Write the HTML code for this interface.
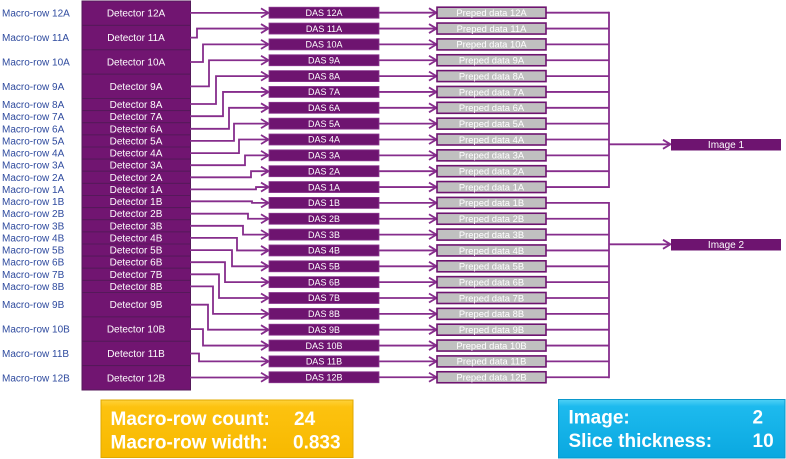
<!DOCTYPE html>
<html><head><meta charset="utf-8"><style>
html,body{margin:0;padding:0;background:#fff;}
svg{display:block;font-family:"Liberation Sans",Arial,sans-serif;}
</style></head><body>
<svg width="786" height="459" viewBox="0 0 786 459" xmlns="http://www.w3.org/2000/svg">
<defs>
<linearGradient id="gy" x1="0" y1="0" x2="0" y2="1"><stop offset="0" stop-color="#ffd23a"/><stop offset="0.12" stop-color="#fdc20f"/><stop offset="1" stop-color="#f7b900"/></linearGradient>
<linearGradient id="gb" x1="0" y1="0" x2="0" y2="1"><stop offset="0" stop-color="#4fd0f5"/><stop offset="0.12" stop-color="#1dbaee"/><stop offset="1" stop-color="#0aa8e0"/></linearGradient>
</defs>

<!-- Macro-row labels -->
<g fill="#2e4a9e" font-size="10">
<text x="2" y="16.7">Macro-row 12A</text>
<text x="2" y="41.1">Macro-row 11A</text>
<text x="2" y="65.5">Macro-row 10A</text>
<text x="2" y="89.9">Macro-row 9A</text>
<text x="2" y="108.1">Macro-row 8A</text>
<text x="2" y="120.2">Macro-row 7A</text>
<text x="2" y="132.3">Macro-row 6A</text>
<text x="2" y="144.4">Macro-row 5A</text>
<text x="2" y="156.6">Macro-row 4A</text>
<text x="2" y="168.7">Macro-row 3A</text>
<text x="2" y="180.8">Macro-row 2A</text>
<text x="2" y="192.9">Macro-row 1A</text>
<text x="2" y="205.1">Macro-row 1B</text>
<text x="2" y="217.2">Macro-row 2B</text>
<text x="2" y="229.3">Macro-row 3B</text>
<text x="2" y="241.4">Macro-row 4B</text>
<text x="2" y="253.6">Macro-row 5B</text>
<text x="2" y="265.7">Macro-row 6B</text>
<text x="2" y="277.8">Macro-row 7B</text>
<text x="2" y="289.9">Macro-row 8B</text>
<text x="2" y="308.2">Macro-row 9B</text>
<text x="2" y="332.6">Macro-row 10B</text>
<text x="2" y="357">Macro-row 11B</text>
<text x="2" y="381.3">Macro-row 12B</text>
</g>

<!-- Detectors -->
<g fill="#711571" stroke="#55195a" stroke-width="1">
<rect x="82" y="1" width="108.5" height="24.4"/>
<rect x="82" y="25.4" width="108.5" height="24.4"/>
<rect x="82" y="49.8" width="108.5" height="24.4"/>
<rect x="82" y="74.2" width="108.5" height="24.3"/>
<rect x="82" y="98.5" width="108.5" height="12.1"/>
<rect x="82" y="110.6" width="108.5" height="12.15"/>
<rect x="82" y="122.75" width="108.5" height="12.15"/>
<rect x="82" y="134.9" width="108.5" height="12.1"/>
<rect x="82" y="147" width="108.5" height="12.1"/>
<rect x="82" y="159.1" width="108.5" height="12.15"/>
<rect x="82" y="171.25" width="108.5" height="12.15"/>
<rect x="82" y="183.4" width="108.5" height="12.1"/>
<rect x="82" y="195.5" width="108.5" height="12.1"/>
<rect x="82" y="207.6" width="108.5" height="12.15"/>
<rect x="82" y="219.75" width="108.5" height="12.15"/>
<rect x="82" y="231.9" width="108.5" height="12.1"/>
<rect x="82" y="244" width="108.5" height="12.1"/>
<rect x="82" y="256.1" width="108.5" height="12.15"/>
<rect x="82" y="268.25" width="108.5" height="12.15"/>
<rect x="82" y="280.4" width="108.5" height="12.1"/>
<rect x="82" y="292.5" width="108.5" height="24.4"/>
<rect x="82" y="316.9" width="108.5" height="24.4"/>
<rect x="82" y="341.3" width="108.5" height="24.3"/>
<rect x="82" y="365.6" width="108.5" height="24.4"/>
</g>
<g fill="#fff" font-size="10" text-anchor="middle">
<text x="136" y="16.7">Detector 12A</text>
<text x="136" y="41.1">Detector 11A</text>
<text x="136" y="65.5">Detector 10A</text>
<text x="136" y="89.9">Detector 9A</text>
<text x="136" y="108.1">Detector 8A</text>
<text x="136" y="120.2">Detector 7A</text>
<text x="136" y="132.3">Detector 6A</text>
<text x="136" y="144.4">Detector 5A</text>
<text x="136" y="156.6">Detector 4A</text>
<text x="136" y="168.7">Detector 3A</text>
<text x="136" y="180.8">Detector 2A</text>
<text x="136" y="192.9">Detector 1A</text>
<text x="136" y="205.1">Detector 1B</text>
<text x="136" y="217.2">Detector 2B</text>
<text x="136" y="229.3">Detector 3B</text>
<text x="136" y="241.4">Detector 4B</text>
<text x="136" y="253.6">Detector 5B</text>
<text x="136" y="265.7">Detector 6B</text>
<text x="136" y="277.8">Detector 7B</text>
<text x="136" y="289.9">Detector 8B</text>
<text x="136" y="308.2">Detector 9B</text>
<text x="136" y="332.6">Detector 10B</text>
<text x="136" y="357">Detector 11B</text>
<text x="136" y="381.3">Detector 12B</text>
</g>

<!-- Detector -> DAS connectors -->
<g fill="none" stroke="#862d8c" stroke-width="1.8">
<path d="M190,12.9 H268"/>
<path d="M190,37.6 H197 V28.55 H268"/>
<path d="M190,62 H203 V44.4 H268"/>
<path d="M190,86.4 H209 V60.25 H268"/>
<path d="M190,104 H216 V76.1 H268"/>
<path d="M190,116.2 H223 V91.95 H268"/>
<path d="M190,128.8 H229 V107.8 H268"/>
<path d="M190,140.9 H234 V123.65 H268"/>
<path d="M190,153.1 H239 V139.5 H268"/>
<path d="M190,165.2 H245 V155.35 H268"/>
<path d="M190,177.3 H251 V171.2 H268"/>
<path d="M190,189.4 H256 V187.05 H268"/>
<path d="M190,201.3 H252 V202.9 H268"/>
<path d="M190,213.7 H248 V218.75 H268"/>
<path d="M190,225.8 H243 V234.6 H268"/>
<path d="M190,237.9 H237 V250.45 H268"/>
<path d="M190,250.1 H232 V266.3 H268"/>
<path d="M190,262.2 H225 V282.15 H268"/>
<path d="M190,274.3 H219 V298 H268"/>
<path d="M190,286.4 H213 V313.85 H268"/>
<path d="M190,304.7 H208 V329.7 H268"/>
<path d="M190,329.1 H203 V345.55 H268"/>
<path d="M190,353.5 H199 V361.4 H268"/>
<path d="M190,377.5 H268"/>
</g>

<!-- DAS -> Preped lines and bus -->
<g fill="none" stroke="#862d8c" stroke-width="1.8">
<path d="M379,12.7 H436 M379,28.55 H436 M379,44.4 H436 M379,60.25 H436 M379,76.1 H436 M379,91.95 H436 M379,107.8 H436 M379,123.65 H436 M379,139.5 H436 M379,155.35 H436 M379,171.2 H436 M379,187.05 H436 M379,202.9 H436 M379,218.75 H436 M379,234.6 H436 M379,250.45 H436 M379,266.3 H436 M379,282.15 H436 M379,298 H436 M379,313.85 H436 M379,329.7 H436 M379,345.55 H436 M379,361.4 H436 M379,377.25 H436"/>
<path d="M546,12.7 H609 M546,28.55 H609 M546,44.4 H609 M546,60.25 H609 M546,76.1 H609 M546,91.95 H609 M546,107.8 H609 M546,123.65 H609 M546,139.5 H609 M546,155.35 H609 M546,171.2 H609 M546,187.05 H609 M546,202.9 H609 M546,218.75 H609 M546,234.6 H609 M546,250.45 H609 M546,266.3 H609 M546,282.15 H609 M546,298 H609 M546,313.85 H609 M546,329.7 H609 M546,345.55 H609 M546,361.4 H609 M546,377.25 H609"/>
<path d="M609,11.8 V188"/>
<path d="M609,202 V378.2"/>
<path d="M609,144.3 H670"/>
<path d="M609,244.3 H670"/>
</g>

<!-- Arrowheads -->
<g fill="none" stroke="#862d8c" stroke-width="1.8" stroke-linejoin="miter">
<path d="M261,8.4 L268.5,12.9 L261,17.4 M261,24.05 L268.5,28.55 L261,33.05 M261,39.9 L268.5,44.4 L261,48.9 M261,55.75 L268.5,60.25 L261,64.75 M261,71.6 L268.5,76.1 L261,80.6 M261,87.45 L268.5,91.95 L261,96.45 M261,103.3 L268.5,107.8 L261,112.3 M261,119.15 L268.5,123.65 L261,128.15 M261,135 L268.5,139.5 L261,144 M261,150.85 L268.5,155.35 L261,159.85 M261,166.7 L268.5,171.2 L261,175.7 M261,182.55 L268.5,187.05 L261,191.55 M261,198.4 L268.5,202.9 L261,207.4 M261,214.25 L268.5,218.75 L261,223.25 M261,230.1 L268.5,234.6 L261,239.1 M261,245.95 L268.5,250.45 L261,254.95 M261,261.8 L268.5,266.3 L261,270.8 M261,277.65 L268.5,282.15 L261,286.65 M261,293.5 L268.5,298 L261,302.5 M261,309.35 L268.5,313.85 L261,318.35 M261,325.2 L268.5,329.7 L261,334.2 M261,341.05 L268.5,345.55 L261,350.05 M261,356.9 L268.5,361.4 L261,365.9 M261,372.75 L268.5,377.25 L261,381.75"/>
<path d="M429,8.2 L436.5,12.7 L429,17.2 M429,24.05 L436.5,28.55 L429,33.05 M429,39.9 L436.5,44.4 L429,48.9 M429,55.75 L436.5,60.25 L429,64.75 M429,71.6 L436.5,76.1 L429,80.6 M429,87.45 L436.5,91.95 L429,96.45 M429,103.3 L436.5,107.8 L429,112.3 M429,119.15 L436.5,123.65 L429,128.15 M429,135 L436.5,139.5 L429,144 M429,150.85 L436.5,155.35 L429,159.85 M429,166.7 L436.5,171.2 L429,175.7 M429,182.55 L436.5,187.05 L429,191.55 M429,198.4 L436.5,202.9 L429,207.4 M429,214.25 L436.5,218.75 L429,223.25 M429,230.1 L436.5,234.6 L429,239.1 M429,245.95 L436.5,250.45 L429,254.95 M429,261.8 L436.5,266.3 L429,270.8 M429,277.65 L436.5,282.15 L429,286.65 M429,293.5 L436.5,298 L429,302.5 M429,309.35 L436.5,313.85 L429,318.35 M429,325.2 L436.5,329.7 L429,334.2 M429,341.05 L436.5,345.55 L429,350.05 M429,356.9 L436.5,361.4 L429,365.9 M429,372.75 L436.5,377.25 L429,381.75"/>
<path d="M663,139.8 L670.5,144.3 L663,148.8 M663,239.8 L670.5,244.3 L663,248.8"/>
</g>

<!-- DAS boxes -->
<g fill="#6e1470" stroke="#8a3a90" stroke-width="0.8">
<rect x="269" y="7.2" width="110" height="11"/>
<rect x="269" y="23.05" width="110" height="11"/>
<rect x="269" y="38.9" width="110" height="11"/>
<rect x="269" y="54.75" width="110" height="11"/>
<rect x="269" y="70.6" width="110" height="11"/>
<rect x="269" y="86.45" width="110" height="11"/>
<rect x="269" y="102.3" width="110" height="11"/>
<rect x="269" y="118.15" width="110" height="11"/>
<rect x="269" y="134" width="110" height="11"/>
<rect x="269" y="149.85" width="110" height="11"/>
<rect x="269" y="165.7" width="110" height="11"/>
<rect x="269" y="181.55" width="110" height="11"/>
<rect x="269" y="197.4" width="110" height="11"/>
<rect x="269" y="213.25" width="110" height="11"/>
<rect x="269" y="229.1" width="110" height="11"/>
<rect x="269" y="244.95" width="110" height="11"/>
<rect x="269" y="260.8" width="110" height="11"/>
<rect x="269" y="276.65" width="110" height="11"/>
<rect x="269" y="292.5" width="110" height="11"/>
<rect x="269" y="308.35" width="110" height="11"/>
<rect x="269" y="324.2" width="110" height="11"/>
<rect x="269" y="340.05" width="110" height="11"/>
<rect x="269" y="355.9" width="110" height="11"/>
<rect x="269" y="371.75" width="110" height="11"/>
</g>
<g fill="#fff" font-size="9" text-anchor="middle">
<text x="324" y="15.9">DAS 12A</text>
<text x="324" y="31.75">DAS 11A</text>
<text x="324" y="47.6">DAS 10A</text>
<text x="324" y="63.45">DAS 9A</text>
<text x="324" y="79.3">DAS 8A</text>
<text x="324" y="95.15">DAS 7A</text>
<text x="324" y="111">DAS 6A</text>
<text x="324" y="126.85">DAS 5A</text>
<text x="324" y="142.7">DAS 4A</text>
<text x="324" y="158.55">DAS 3A</text>
<text x="324" y="174.4">DAS 2A</text>
<text x="324" y="190.25">DAS 1A</text>
<text x="324" y="206.1">DAS 1B</text>
<text x="324" y="221.95">DAS 2B</text>
<text x="324" y="237.8">DAS 3B</text>
<text x="324" y="253.65">DAS 4B</text>
<text x="324" y="269.5">DAS 5B</text>
<text x="324" y="285.35">DAS 6B</text>
<text x="324" y="301.2">DAS 7B</text>
<text x="324" y="317.05">DAS 8B</text>
<text x="324" y="332.9">DAS 9B</text>
<text x="324" y="348.75">DAS 10B</text>
<text x="324" y="364.6">DAS 11B</text>
<text x="324" y="380.45">DAS 12B</text>
</g>

<!-- Preped data boxes -->
<g fill="#c0c0c0" stroke="#6e1470" stroke-width="1.6">
<rect x="437" y="7.2" width="109" height="11"/>
<rect x="437" y="23.05" width="109" height="11"/>
<rect x="437" y="38.9" width="109" height="11"/>
<rect x="437" y="54.75" width="109" height="11"/>
<rect x="437" y="70.6" width="109" height="11"/>
<rect x="437" y="86.45" width="109" height="11"/>
<rect x="437" y="102.3" width="109" height="11"/>
<rect x="437" y="118.15" width="109" height="11"/>
<rect x="437" y="134" width="109" height="11"/>
<rect x="437" y="149.85" width="109" height="11"/>
<rect x="437" y="165.7" width="109" height="11"/>
<rect x="437" y="181.55" width="109" height="11"/>
<rect x="437" y="197.4" width="109" height="11"/>
<rect x="437" y="213.25" width="109" height="11"/>
<rect x="437" y="229.1" width="109" height="11"/>
<rect x="437" y="244.95" width="109" height="11"/>
<rect x="437" y="260.8" width="109" height="11"/>
<rect x="437" y="276.65" width="109" height="11"/>
<rect x="437" y="292.5" width="109" height="11"/>
<rect x="437" y="308.35" width="109" height="11"/>
<rect x="437" y="324.2" width="109" height="11"/>
<rect x="437" y="340.05" width="109" height="11"/>
<rect x="437" y="355.9" width="109" height="11"/>
<rect x="437" y="371.75" width="109" height="11"/>
</g>
<g fill="#fff" font-size="9.4" text-anchor="middle">
<text x="491.5" y="16">Preped data 12A</text>
<text x="491.5" y="31.85">Preped data 11A</text>
<text x="491.5" y="47.7">Preped data 10A</text>
<text x="491.5" y="63.55">Preped data 9A</text>
<text x="491.5" y="79.4">Preped data 8A</text>
<text x="491.5" y="95.25">Preped data 7A</text>
<text x="491.5" y="111.1">Preped data 6A</text>
<text x="491.5" y="126.95">Preped data 5A</text>
<text x="491.5" y="142.8">Preped data 4A</text>
<text x="491.5" y="158.65">Preped data 3A</text>
<text x="491.5" y="174.5">Preped data 2A</text>
<text x="491.5" y="190.35">Preped data 1A</text>
<text x="491.5" y="206.2">Preped data 1B</text>
<text x="491.5" y="222.05">Preped data 2B</text>
<text x="491.5" y="237.9">Preped data 3B</text>
<text x="491.5" y="253.75">Preped data 4B</text>
<text x="491.5" y="269.6">Preped data 5B</text>
<text x="491.5" y="285.45">Preped data 6B</text>
<text x="491.5" y="301.3">Preped data 7B</text>
<text x="491.5" y="317.15">Preped data 8B</text>
<text x="491.5" y="333">Preped data 9B</text>
<text x="491.5" y="348.85">Preped data 10B</text>
<text x="491.5" y="364.7">Preped data 11B</text>
<text x="491.5" y="380.55">Preped data 12B</text>
</g>

<!-- Image boxes -->
<rect x="671" y="139" width="110" height="11.5" fill="#6e1470"/>
<rect x="671" y="239" width="110" height="11.5" fill="#6e1470"/>
<g fill="#fff" font-size="10" text-anchor="middle">
<text x="726" y="148.2">Image 1</text>
<text x="726" y="248.2">Image 2</text>
</g>

<!-- Legend boxes -->
<rect x="101" y="400" width="252" height="57.5" fill="url(#gy)" stroke="#e0a800" stroke-width="1"/>
<g fill="#fff" font-size="19" font-weight="bold">
<text x="110.5" y="425">Macro-row count:</text>
<text x="294" y="425">24</text>
<text x="110.5" y="448.5">Macro-row width:</text>
<text x="293" y="448.5">0.833</text>
</g>
<rect x="558.5" y="399.5" width="226.5" height="58.5" fill="url(#gb)" stroke="#0a98cc" stroke-width="1"/>
<g fill="#fff" font-size="19" font-weight="bold">
<text x="568.5" y="423.5">Image:</text>
<text x="752.5" y="423.5">2</text>
<text x="568.5" y="447">Slice thickness:</text>
<text x="752.5" y="447">10</text>
</g>
</svg>
</body></html>
